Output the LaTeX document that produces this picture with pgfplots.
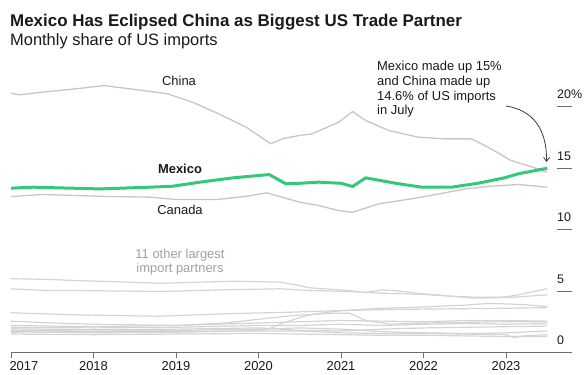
\documentclass[border=0pt]{standalone}
\usepackage{fontspec}
\setmainfont{Liberation Sans}
\usepackage{pgfplots}
\pgfplotsset{compat=1.18}
\usetikzlibrary{arrows.meta}
\definecolor{mxgreen}{RGB}{52,201,120}
\definecolor{linegray}{RGB}{198,198,198}
\definecolor{othergray}{RGB}{212,212,212}
\definecolor{axisgray}{RGB}{110,110,110}
\definecolor{txt}{RGB}{25,25,25}
\definecolor{lbl}{RGB}{160,160,160}
\begin{document}
\begin{tikzpicture}[x=1bp,y=1bp]
\useasboundingbox (0,0) rectangle (584,-374);
\begin{axis}[
  at={(11bp,-352.5bp)}, anchor=south west,
  scale only axis, width=561bp, height=270.6bp,
  xmin=2017, xmax=2023.8, ymin=0, ymax=22,
  clip=false,
  axis x line*=bottom, axis y line*=right,
  x axis line style={draw=axisgray, line width=0.8bp, -},
  y axis line style={draw=none},
  xtick={2017,2018,2019,2020,2021,2022,2023},
  xticklabels={\makebox[0pt][l]{\hspace*{-1.5bp}2017},2018,2019,2020,2021,2022,2023},
  ytick={0,5,10,15,20},
  yticklabels={0,5,10,15,20\%},
  yticklabel pos=right,
  tick align=outside,
  major tick length=5bp,
  xtick style={draw=axisgray, line width=0.8bp},
  ytick style={draw=none},
  xticklabel style={anchor=base, inner sep=0pt, yshift=-13bp, font=\fontsize{13}{15}\selectfont, text=txt},
  yticklabel style={anchor=base west, inner sep=0pt, xshift=-20bp, yshift=7.7bp, font=\fontsize{12.5}{15}\selectfont, text=txt},
  /pgf/number format/assume math mode=true,
]
% 11 other largest import partners
\addplot[othergray, line width=1.2bp] coordinates {(2017,6.0)(2017.4,5.95)(2017.8,5.85)(2018.3,5.75)(2018.8,5.63)(2019.2,5.7)(2019.7,5.8)(2020.26,5.72)(2020.45,5.5)(2020.62,5.26)(2021.1,5.04)(2021.3,4.88)(2021.5,5.1)(2021.7,5.0)(2022.0,4.77)(2022.3,4.6)(2022.6,4.42)(2022.9,4.45)(2023.1,4.63)(2023.5,5.18)};
\addplot[othergray, line width=1.2bp] coordinates {(2017,5.18)(2017.4,5.05)(2017.8,5.04)(2018.8,4.96)(2019.6,5.1)(2020.26,5.18)(2020.62,5.04)(2021.1,4.96)(2021.5,4.82)(2022.0,4.72)(2022.3,4.6)(2022.6,4.5)(2023.1,4.5)(2023.5,4.69)};
\addplot[othergray, line width=1.2bp] coordinates {(2017,3.23)(2017.8,3.06)(2018.8,2.95)(2019.6,3.15)(2020.4,3.28)(2021.0,3.41)(2021.6,3.5)(2022.3,3.55)(2023.0,3.6)(2023.5,3.65)};
\addplot[othergray, line width=1.2bp] coordinates {(2017,1.7)(2018,1.6)(2019,1.65)(2019.8,1.75)(2020.1,1.85)(2020.3,2.4)(2020.5,2.85)(2020.7,3.15)(2021.0,3.4)(2021.5,3.6)(2022.0,3.7)(2022.5,3.85)(2022.8,4.0)(2023.2,3.9)(2023.5,3.74)};
\addplot[othergray, line width=1.2bp] coordinates {(2017,2.55)(2017.5,2.4)(2018,2.3)(2019,2.2)(2019.6,2.4)(2020.0,2.7)(2020.4,3.0)(2020.9,3.2)(2021.1,3.2)(2021.3,2.6)(2021.6,2.3)(2022.0,2.4)(2022.5,2.45)(2023.0,2.5)(2023.5,2.5)};
\addplot[othergray, line width=1.2bp] coordinates {(2017,2.2)(2018,2.1)(2019,2.2)(2020,2.4)(2020.5,2.5)(2021,2.6)(2021.5,2.55)(2022,2.5)(2022.5,2.6)(2023,2.6)(2023.5,2.55)};
\addplot[othergray, line width=1.2bp] coordinates {(2017,2.05)(2018,2.0)(2019,2.05)(2020,2.2)(2020.5,2.2)(2021,2.3)(2021.5,2.2)(2022,2.3)(2022.5,2.35)(2023,2.3)(2023.5,2.35)};
\addplot[othergray, line width=1.2bp] coordinates {(2017,1.93)(2018,1.85)(2019,1.9)(2020,2.0)(2020.5,1.8)(2021,1.75)(2021.5,1.9)(2022,2.0)(2022.5,2.05)(2023,2.1)(2023.5,2.15)};
\addplot[othergray, line width=1.2bp] coordinates {(2017,1.8)(2018,1.75)(2019,1.8)(2020,1.9)(2020.5,2.0)(2021,1.9)(2021.5,1.7)(2022,1.6)(2022.5,1.55)(2023,1.6)(2023.5,1.75)};
\addplot[othergray, line width=1.2bp] coordinates {(2017,1.65)(2018,1.7)(2019,1.7)(2020,1.75)(2020.5,1.75)(2021,1.6)(2021.5,1.55)(2022,1.55)(2022.5,1.5)(2023,1.45)(2023.1,1.2)(2023.2,1.35)(2023.5,1.45)};
\addplot[othergray, line width=1.2bp] coordinates {(2017,1.5)(2018,1.45)(2019,1.5)(2020,1.55)(2020.5,1.5)(2021,1.45)(2021.5,1.4)(2022,1.4)(2022.5,1.35)(2023,1.3)(2023.5,1.3)};
% Canada
\addplot[linegray, line width=1.3bp] coordinates {(2017.0,12.68)(2017.38,12.85)(2018.08,12.7)(2018.68,12.63)(2019.0,12.44)(2019.5,12.44)(2019.85,12.7)(2020.1,12.98)(2020.3,12.6)(2020.5,12.22)(2020.73,11.95)(2020.97,11.54)(2021.14,11.4)(2021.46,12.09)(2021.86,12.5)(2022.15,12.85)(2022.51,13.3)(2022.82,13.52)(2023.15,13.66)(2023.5,13.44)};
% China
\addplot[linegray, line width=1.3bp] coordinates {(2017.0,21.08)(2017.09,20.95)(2017.5,21.25)(2017.8,21.45)(2018.13,21.7)(2018.6,21.3)(2018.9,21.03)(2019.2,20.35)(2019.5,19.46)(2019.85,18.32)(2020.15,16.97)(2020.3,17.4)(2020.5,17.65)(2020.65,17.78)(2020.97,18.72)(2021.14,19.59)(2021.3,18.86)(2021.58,18.05)(2021.94,17.5)(2022.27,17.37)(2022.58,17.37)(2022.82,16.56)(2023.06,15.61)(2023.3,15.12)(2023.5,14.66)};
% Mexico
\addplot[mxgreen, line width=3bp] coordinates {(2017.0,13.36)(2017.27,13.44)(2018.08,13.3)(2018.68,13.44)(2018.96,13.52)(2019.29,13.85)(2019.69,14.2)(2020.13,14.47)(2020.33,13.72)(2020.5,13.76)(2020.73,13.85)(2021.0,13.76)(2021.14,13.5)(2021.3,14.2)(2021.66,13.76)(2021.98,13.44)(2022.34,13.44)(2022.66,13.76)(2022.98,14.2)(2023.15,14.53)(2023.5,14.98)};
% right-side tick dashes
\foreach \v in {5,10,15,20}{
  \edef\temp{\noexpand\draw[axisgray, line width=0.9bp] (axis cs:2023.618,\v) -- (axis cs:2023.8,\v);}
  \temp
}
\end{axis}
% titles
\node[anchor=base west, inner sep=0pt, text=txt] at (10,-26) {\fontsize{17}{19}\selectfont\bfseries Mexico Has Eclipsed China as Biggest US Trade Partner};
\node[anchor=base west, inner sep=0pt, text=txt] at (10,-45) {\fontsize{16.5}{18}\selectfont Monthly share of US imports};
% series labels
\node[anchor=base, inner sep=0pt, text=txt] at (179,-85) {\fontsize{13}{15}\selectfont China};
\node[anchor=base, inner sep=0pt, text=txt] at (180,-173) {\fontsize{13}{15}\selectfont\bfseries Mexico};
\node[anchor=base, inner sep=0pt, text=txt] at (180,-214) {\fontsize{13}{15}\selectfont Canada};
\node[anchor=base, inner sep=0pt, text=lbl] at (180,-258) {\fontsize{13}{15}\selectfont 11 other largest};
\node[anchor=base, inner sep=0pt, text=lbl] at (180,-272) {\fontsize{13}{15}\selectfont import partners};
% annotation
\node[anchor=base west, inner sep=0pt, text=txt] at (377,-70) {\fontsize{13}{15}\selectfont Mexico made up 15\%};
\node[anchor=base west, inner sep=0pt, text=txt] at (377,-85) {\fontsize{13}{15}\selectfont and China made up};
\node[anchor=base west, inner sep=0pt, text=txt] at (377,-100) {\fontsize{13}{15}\selectfont 14.6\% of US imports};
\node[anchor=base west, inner sep=0pt, text=txt] at (377,-114) {\fontsize{13}{15}\selectfont in July};
\draw[-{Straight Barb[length=4bp,width=6bp]}, draw=txt!85, line width=0.8bp] (506,-106) .. controls (532,-110) and (547,-128) .. (546.5,-162);
\end{tikzpicture}
\end{document}
